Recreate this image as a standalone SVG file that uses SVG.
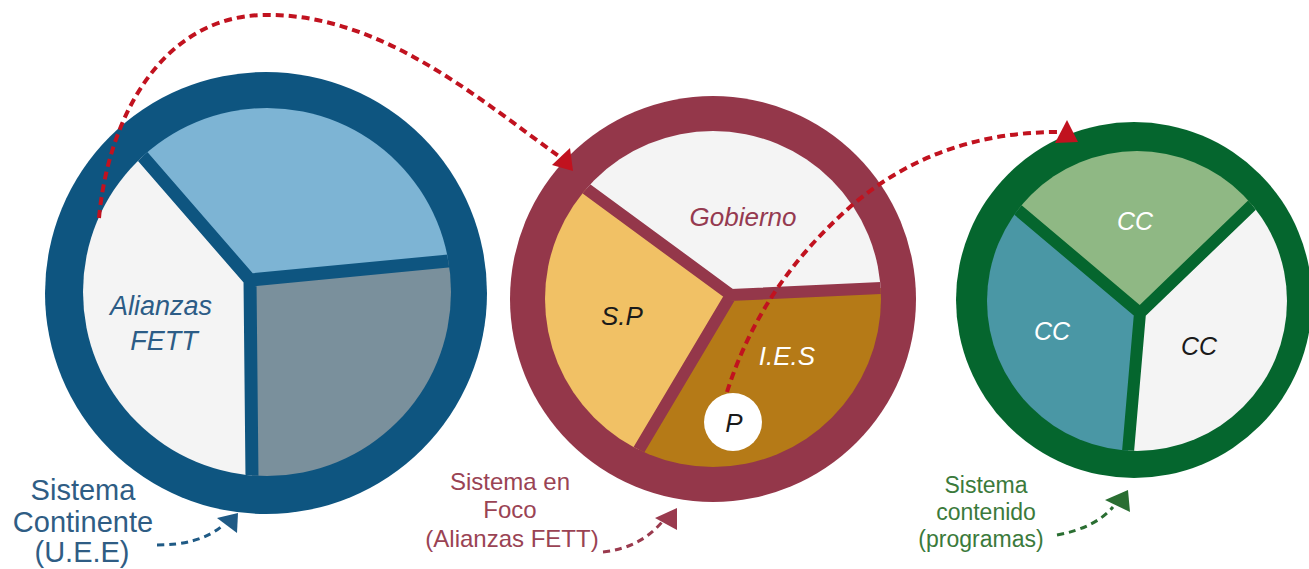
<svg xmlns="http://www.w3.org/2000/svg" width="1309" height="569" viewBox="0 0 1309 569">
<style>
.lbl{font-family:"Liberation Sans",Arial,sans-serif;text-anchor:middle}
.it{font-family:"Liberation Sans",Arial,sans-serif;font-style:italic;text-anchor:middle}
.red{fill:none;stroke:#c1121f;stroke-width:4;stroke-dasharray:8 5}
.redh{fill:#c1121f}
.sep-b{fill:none;stroke:#0e5580;stroke-width:13}
.sep-m{fill:none;stroke:#94374a;stroke-width:12}
.sep-g{fill:none;stroke:#05662e;stroke-width:12}
</style>
<defs>
<clipPath id="cb"><circle cx="267" cy="292" r="184"/></clipPath>
<clipPath id="cm"><circle cx="713" cy="299" r="168"/></clipPath>
<clipPath id="cg"><circle cx="1137" cy="301" r="150"/></clipPath>
</defs>
<rect width="1309" height="569" fill="#ffffff"/>

<g id="node-continente">
<circle cx="266" cy="293" r="221" fill="#0e5580"/>
<g clip-path="url(#cb)">
<polygon points="250,280 38,36 -100,36 -100,676 254,676" fill="#f4f4f4"/>
<polygon points="250,280 38,36 38,-100 646,-100 646,242" fill="#7db4d4"/>
<polygon points="250,280 646,242 646,676 254,676" fill="#7a909c"/>
<path class="sep-b" d="M38,36 L250,280 L646,242 M250,280 L254,676"/>
</g>
<text class="it" x="161" y="315" font-size="27" fill="#2c5c86">Alianzas</text>
<text class="it" x="164" y="350" font-size="27" fill="#2c5c86">FETT</text>
</g>

<g id="node-foco">
<circle cx="713" cy="299" r="203" fill="#94374a"/>
<g clip-path="url(#cm)">
<polygon points="731,295 445,85 445,-100 1033,-100 1033,281" fill="#f4f4f4"/>
<polygon points="731,295 445,85 300,85 300,611 543,611" fill="#f1c165"/>
<polygon points="731,295 543,611 1033,611 1033,281" fill="#b57a17"/>
<path class="sep-m" d="M445,85 L731,295 L1033,281 M731,295 L543,611"/>
</g>
<text class="it" x="743" y="226" font-size="26" fill="#953a50">Gobierno</text>
<text class="it" x="622" y="325" font-size="26" fill="#1a1a1a">S.P</text>
<text class="it" x="787" y="365" font-size="26" fill="#ffffff">I.E.S</text>
<circle cx="733" cy="422" r="29" fill="#ffffff"/>
<text class="it" x="734" y="432" font-size="26" fill="#1a1a1a">P</text>
</g>

<g id="node-contenido">
<circle cx="1134" cy="300" r="178" fill="#05662e"/>
<g clip-path="url(#cg)">
<polygon points="1140,313 896,107 896,-100 1360,-100 1360,101" fill="#8fb884"/>
<polygon points="1140,313 896,107 800,107 800,591 1116,591" fill="#4a97a5"/>
<polygon points="1140,313 1360,101 1360,591 1116,591" fill="#f4f4f4"/>
<path class="sep-g" d="M896,107 L1140,313 L1360,101 M1140,313 L1116,591"/>
</g>
<text class="it" x="1135" y="230" font-size="25" fill="#ffffff">CC</text>
<text class="it" x="1052" y="340" font-size="25" fill="#ffffff">CC</text>
<text class="it" x="1199" y="355" font-size="25" fill="#1a1a1a">CC</text>
</g>

<g id="label-continente">
<text class="lbl" x="83" y="500" font-size="29" fill="#2f5d84">Sistema</text>
<text class="lbl" x="83" y="532" font-size="29" fill="#2f5d84">Continente</text>
<text class="lbl" x="82" y="562" font-size="29" fill="#2f5d84">(U.E.E)</text>
</g>
<g id="label-foco">
<text class="lbl" x="510" y="490" font-size="24" fill="#9a4354">Sistema en</text>
<text class="lbl" x="510" y="518" font-size="24" fill="#9a4354">Foco</text>
<text class="lbl" x="512" y="547" font-size="24" fill="#9a4354">(Alianzas FETT)</text>
</g>
<g id="label-contenido">
<text class="lbl" x="986" y="493" font-size="23" fill="#3b7a3b">Sistema</text>
<text class="lbl" x="986" y="520" font-size="23" fill="#3b7a3b">contenido</text>
<text class="lbl" x="981" y="547" font-size="23" fill="#3b7a3b">(programas)</text>
</g>

<g id="connectors">
<path class="red" d="M99,218 C108,120 160,18 262,15 C380,12 480,100 560,157"/>
<polygon class="redh" points="570,148 552,165 573,171"/>
<path class="red" d="M727,392 C750,320 790,260 850,207 C910,155 980,132 1058,132"/>
<polygon class="redh" points="1067,120 1055,143 1078,142"/>
<path d="M157,545 Q200,545 222,526" fill="none" stroke="#1f5a85" stroke-width="3" stroke-dasharray="7 5"/>
<polygon points="217,518 238,513 237,533" fill="#1f5a85"/>
<path d="M603,552 Q640,548 662,522" fill="none" stroke="#9a3a4e" stroke-width="3" stroke-dasharray="7 5"/>
<polygon points="655,518 677,508 677,530" fill="#9a3a4e"/>
<path d="M1057,535 Q1095,528 1113,507" fill="none" stroke="#2a6e32" stroke-width="3" stroke-dasharray="7 5"/>
<polygon points="1105,500 1128,490 1130,512" fill="#2a6e32"/>
</g>
</svg>
